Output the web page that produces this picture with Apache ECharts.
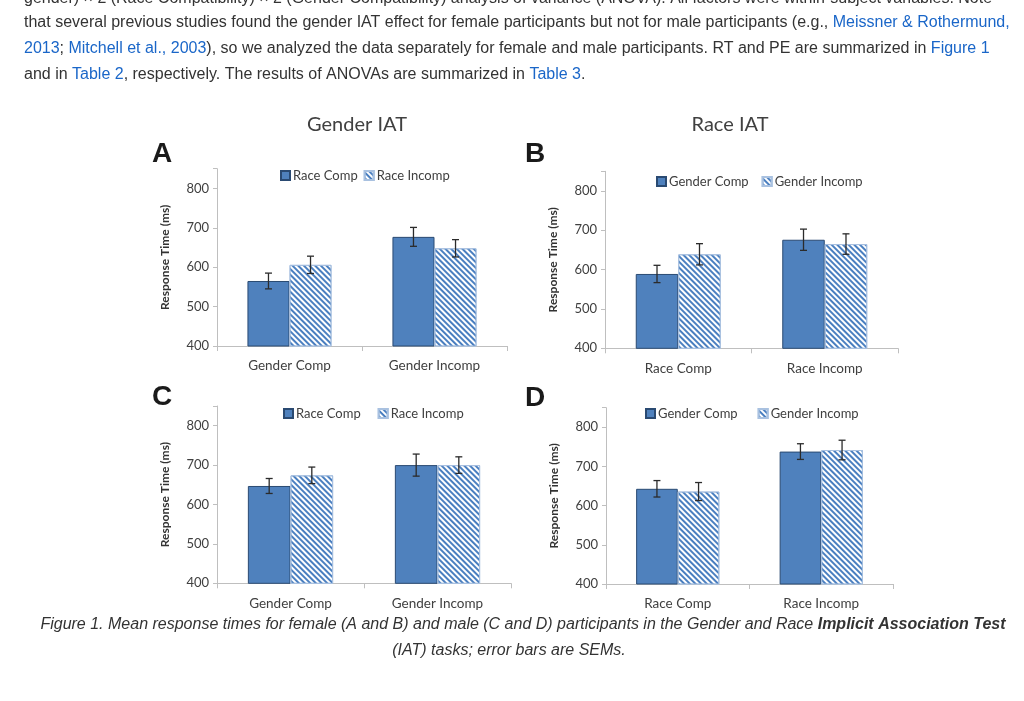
<!DOCTYPE html>
<html>
<head>
<meta charset="utf-8">
<script src="https://cdn.jsdelivr.net/npm/echarts@6/dist/echarts.min.js"></script>
<style>
html,body{margin:0;padding:0;background:#fff;}
#chart{width:1024px;height:701px;}
</style>
</head>
<body>
<div id="chart"></div>
<script>
// ---------- data ----------
const genderCats = ['Gender Comp', 'Gender Incomp'];
const raceCats = ['Race Comp', 'Race Incomp'];
const raceSeries = ['Race Comp', 'Race Incomp'];
const genderSeries = ['Gender Comp', 'Gender Incomp'];
const yTicks = [400, 500, 600, 700, 800];

// Panel A (female, Gender IAT)
const aComp = [565, 677];
const aIncomp = [606, 648];
const aCompSem = [20, 24];
const aIncompSem = [22, 22];
// Panel B (female, Race IAT)
const bComp = [589, 676];
const bIncomp = [639, 665];
const bCompSem = [22, 27];
const bIncompSem = [27, 26];
// Panel C (male, Gender IAT)
const cComp = [647, 700];
const cIncomp = [674, 700];
const cCompSem = [19, 28];
const cIncompSem = [21, 21];
// Panel D (male, Race IAT)
const dComp = [643, 738];
const dIncomp = [636, 742];
const dCompSem = [21, 20];
const dIncompSem = [23, 25];

// ---------- styles ----------
const CH_FONT = 'Lato';
const TXT = '#333333';
const LINK = '#1a66c8';
const BLUE = '#4f81bd';
const AX = '#bfbfbf';
const BW = 0.29;

const grids = [
  {left: 217, top: 168.7, width: 290, height: 177.3},
  {left: 605, top: 171.3, width: 293, height: 177},
  {left: 217, top: 406, width: 294, height: 177.3},
  {left: 606, top: 407.7, width: 287, height: 176.3}
];
const panels = [
  {cats: genderCats, names: raceSeries, comp: aComp, inc: aIncomp, cs: aCompSem, is: aIncompSem},
  {cats: raceCats, names: genderSeries, comp: bComp, inc: bIncomp, cs: bCompSem, is: bIncompSem},
  {cats: genderCats, names: raceSeries, comp: cComp, inc: cIncomp, cs: cCompSem, is: cIncompSem},
  {cats: raceCats, names: genderSeries, comp: dComp, inc: dIncomp, cs: dCompSem, is: dIncompSem}
];
const legendPos = [
  {left: 280, top: 169, gap: 6},
  {left: 656, top: 175, gap: 13},
  {left: 283, top: 407, gap: 17},
  {left: 645, top: 407, gap: 20}
];

const hatchDecal = {
  symbol: 'rect', symbolSize: 1,
  dashArrayX: [[1, 0]], dashArrayY: [1.5, 1.8],
  rotation: Math.PI / 4, color: '#4a7fc0'
};

function errRender(sign) {
  return function (params, api) {
    const x = api.value(0), v = api.value(1), s = api.value(2);
    const band = api.size([1, 0])[0];
    const off = sign * band * BW / 2;
    const t = api.coord([x, v + s]);
    const b = api.coord([x, v - s]);
    const cx = t[0] + off;
    const st = {stroke: '#2b2b2b', lineWidth: 1.3};
    return {type: 'group', children: [
      {type: 'line', shape: {x1: cx, y1: t[1], x2: cx, y2: b[1]}, style: st},
      {type: 'line', shape: {x1: cx - 3.5, y1: t[1], x2: cx + 3.5, y2: t[1]}, style: st},
      {type: 'line', shape: {x1: cx - 3.5, y1: b[1], x2: cx + 3.5, y2: b[1]}, style: st}
    ]};
  };
}

const xAxes = [], yAxes = [], series = [], legends = [];
panels.forEach((p, i) => {
  xAxes.push({
    type: 'category', gridIndex: i, data: p.cats,
    axisLine: {lineStyle: {color: AX, width: 1}},
    axisTick: {show: true, length: 5, lineStyle: {color: AX}},
    axisLabel: {color: '#404040', fontFamily: CH_FONT, fontSize: 13.5, margin: 13}
  });
  yAxes.push({
    type: 'value', gridIndex: i, min: 400, max: 850, interval: 100,
    name: 'Response Time (ms)', nameLocation: 'middle', nameGap: 46,
    nameTextStyle: {color: '#333', fontFamily: CH_FONT, fontWeight: 'bold', fontSize: 12},
    axisLine: {show: true, lineStyle: {color: AX, width: 1}},
    axisTick: {show: true, length: 4, lineStyle: {color: AX}},
    splitLine: {show: false},
    axisLabel: {color: '#404040', fontFamily: CH_FONT, fontSize: 13, margin: 8,
      formatter: v => (yTicks.indexOf(v) >= 0 ? String(v) : '')}
  });
  series.push({
    type: 'bar', name: p.names[0], xAxisIndex: i, yAxisIndex: i,
    data: p.comp, barWidth: (BW * 100) + '%', barGap: '0%',
    itemStyle: {color: BLUE, borderColor: '#2a4a72', borderWidth: 1},
    emphasis: {disabled: true}
  });
  series.push({
    type: 'bar', name: p.names[1], xAxisIndex: i, yAxisIndex: i,
    data: p.inc, barWidth: (BW * 100) + '%', barGap: '0%',
    itemStyle: {color: '#ffffff', borderColor: '#a9c1e0', borderWidth: 1, decal: hatchDecal},
    emphasis: {disabled: true}
  });
  series.push({
    type: 'custom', xAxisIndex: i, yAxisIndex: i, z: 5,
    renderItem: errRender(-1),
    data: p.comp.map((v, k) => [k, v, p.cs[k]])
  });
  series.push({
    type: 'custom', xAxisIndex: i, yAxisIndex: i, z: 5,
    renderItem: errRender(1),
    data: p.inc.map((v, k) => [k, v, p.is[k]])
  });
  legends.push({
    left: legendPos[i].left, top: legendPos[i].top, data: p.names, padding: 0,
    icon: 'rect', itemWidth: 9, itemHeight: 9, itemGap: legendPos[i].gap,
    selectedMode: false,
    textStyle: {color: '#404040', fontFamily: CH_FONT, fontSize: 13, padding: [0, 0, 0, -2]}
  });
});

function txt(x, y, text, opts) {
  return Object.assign({type: 'text', x: x, y: y, silent: true,
    style: Object.assign({text: text, fill: TXT, fontFamily: 'Liberation Sans', fontSize: 16,
      textVerticalAlign: 'middle'}, opts || {})});
}
const richP = {
  l: {fill: LINK, fontFamily: 'Liberation Sans', fontSize: 16, color: LINK},
  b: {fontWeight: 'bold', fontStyle: 'italic', fontFamily: 'Liberation Sans', fontSize: 16}
};

const graphics = [
  txt(24, -1, 'gender) \u00d7 2 (Race Compatibility) \u00d7 2 (Gender Compatibility) analysis of variance (ANOVA). All factors were within-subject variables. Note'),
  txt(24, 23, 'that several previous studies found the gender IAT effect for female participants but not for male participants (e.g., {l|Meissner & Rothermund,}', {rich: richP}),
  txt(24, 49, '{l|2013}; {l|Mitchell et al., 2003}), so we analyzed the data separately for female and male participants. RT and PE are summarized in {l|Figure 1}', {rich: richP}),
  txt(24, 75, 'and in {l|Table 2}, respectively. The results of ANOVAs are summarized in {l|Table 3}.', {rich: richP}),
  // panel titles & letters
  txt(357, 125, 'Gender IAT', {fontFamily: CH_FONT, fontSize: 20, fill: '#404040', textAlign: 'center'}),
  txt(730, 125, 'Race IAT', {fontFamily: CH_FONT, fontSize: 20, fill: '#404040', textAlign: 'center'}),
  txt(152, 154, 'A', {fontFamily: 'Liberation Sans', fontWeight: 'bold', fontSize: 28, fill: '#1a1a1a'}),
  txt(525, 154, 'B', {fontFamily: 'Liberation Sans', fontWeight: 'bold', fontSize: 28, fill: '#1a1a1a'}),
  txt(152, 397, 'C', {fontFamily: 'Liberation Sans', fontWeight: 'bold', fontSize: 28, fill: '#1a1a1a'}),
  txt(525, 398, 'D', {fontFamily: 'Liberation Sans', fontWeight: 'bold', fontSize: 28, fill: '#1a1a1a'}),
  // caption
  txt(523, 625, 'Figure 1. Mean response times for female (A and B) and male (C and D) participants in the Gender and Race {b|Implicit Association Test}',
    {fontStyle: 'italic', fontSize: 16, textAlign: 'center', rich: richP}),
  txt(509, 651, '(IAT) tasks; error bars are SEMs.', {fontStyle: 'italic', fontSize: 16, textAlign: 'center'})
];

const chart = echarts.init(document.getElementById('chart'), null, {renderer: 'canvas'});
chart.setOption({
  animation: false,
  backgroundColor: '#ffffff',
  grid: grids,
  xAxis: xAxes,
  yAxis: yAxes,
  legend: legends,
  series: series,
  graphic: graphics
});
</script>
</body>
</html>
